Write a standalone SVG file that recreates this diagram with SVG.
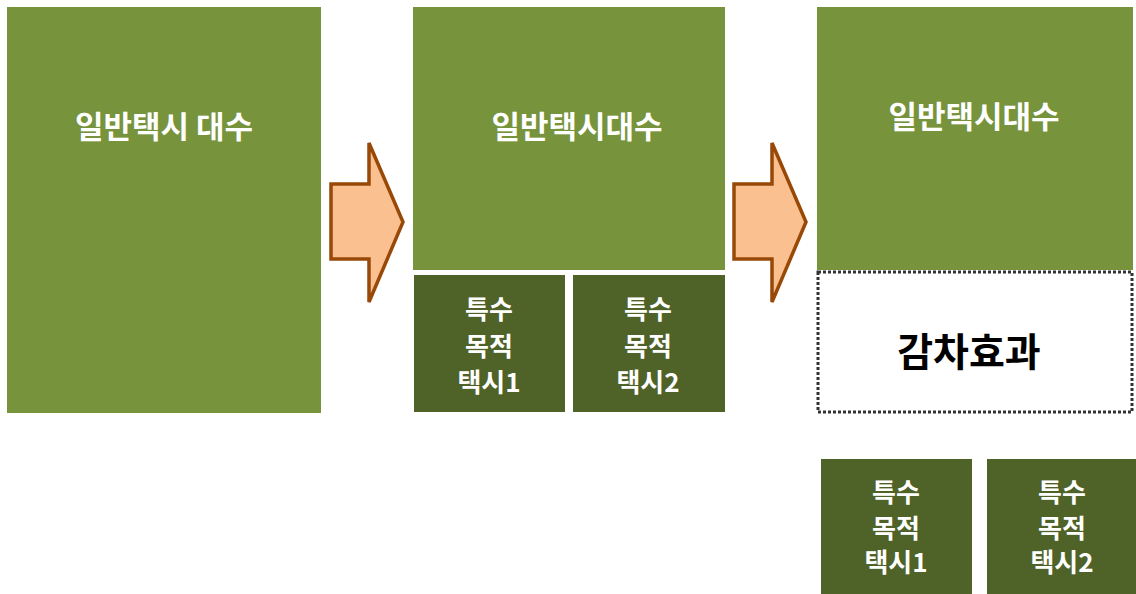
<svg xmlns="http://www.w3.org/2000/svg" width="1136" height="594" viewBox="0 0 1136 594">
<style>
.big{fill:#77933C}
.small{fill:#4F6228}
.t{font-family:"Noto Sans CJK KR","Noto Sans",sans-serif;font-weight:bold;fill:#fff;text-anchor:middle}
.t1{font-size:31px}
.t2{font-size:26px}
.arr{fill:#FAC090;stroke:#984807;stroke-width:3.5;stroke-linejoin:miter}
</style>
<rect width="1136" height="594" fill="#fff"/>
<g id="node-general1">
<rect class="big" x="7" y="7" width="314" height="406"/>
<text class="t t1" x="164" y="138">일반택시 대수</text>
</g>
<g id="connectors">
<polygon class="arr" points="331,184 369,184 369,143 403,222 369,302 369,259 331,259"/>
<polygon class="arr" points="734,184 772,184 772,143 806,222 772,302 772,259 734,259"/>
</g>
<g id="node-general2">
<rect class="big" x="413" y="7" width="312" height="263"/>
<text class="t t1" x="577" y="138">일반택시대수</text>
</g>
<g id="node-special1a">
<rect class="small" x="414" y="275" width="151" height="137"/>
<text class="t t2" x="489" y="319">특수</text>
<text class="t t2" x="489" y="356">목적</text>
<text class="t t2" x="489" y="392">택시1</text>
</g>
<g id="node-special2a">
<rect class="small" x="573" y="275" width="152" height="137"/>
<text class="t t2" x="648" y="319">특수</text>
<text class="t t2" x="648" y="356">목적</text>
<text class="t t2" x="648" y="392">택시2</text>
</g>
<g id="node-general3">
<rect class="big" x="817" y="7" width="316" height="263"/>
<text class="t t1" x="974" y="128">일반택시대수</text>
</g>
<g id="node-reduction">
<rect x="818" y="272" width="314" height="140" fill="#fff" stroke="#333" stroke-width="3" stroke-dasharray="3,2"/>
<text x="969" y="366" font-family="'Noto Sans CJK KR',sans-serif" font-weight="bold" font-size="39" text-anchor="middle" fill="#000">감차효과</text>
</g>
<g id="node-special1b">
<rect class="small" x="821" y="459" width="151" height="135"/>
<text class="t t2" x="896" y="502">특수</text>
<text class="t t2" x="896" y="538">목적</text>
<text class="t t2" x="896" y="572">택시1</text>
</g>
<g id="node-special2b">
<rect class="small" x="987" y="459" width="149" height="135"/>
<text class="t t2" x="1062" y="502">특수</text>
<text class="t t2" x="1062" y="538">목적</text>
<text class="t t2" x="1062" y="572">택시2</text>
</g>
</svg>
